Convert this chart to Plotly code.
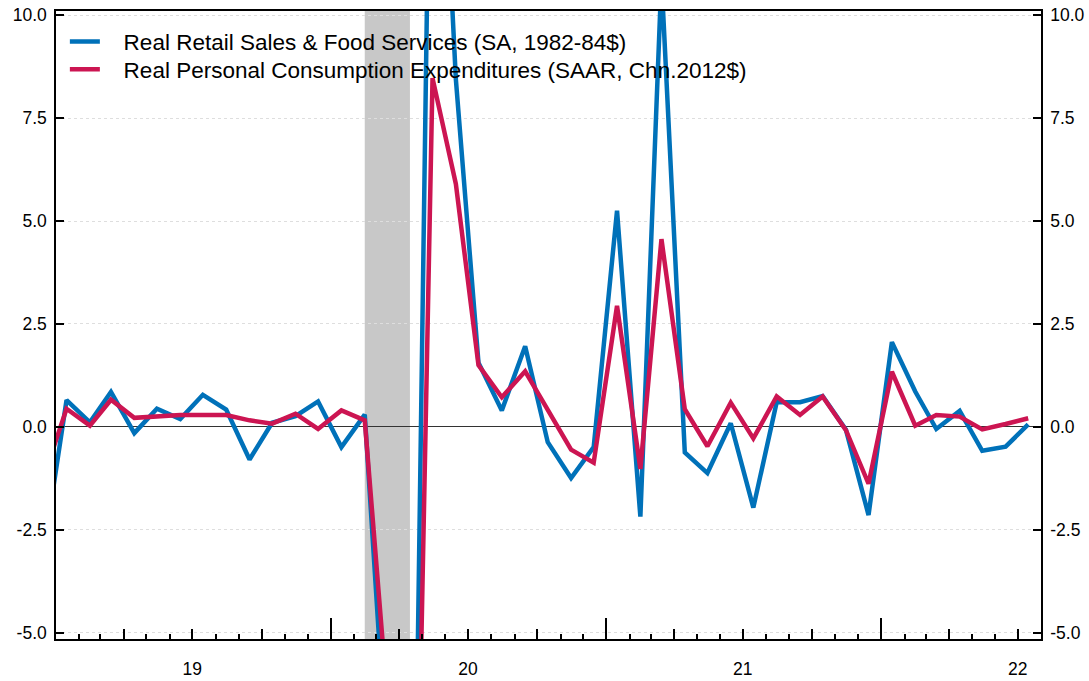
import plotly.graph_objects as go

# ---------------- data ----------------
months = (["2018-12"] +
          [f"{y}-{m:02d}" for y in (2019, 2020, 2021) for m in range(1, 13)] +
          [f"2022-{m:02d}" for m in range(1, 8)])
dates = [m + "-15" for m in months]

retail_sales = [-3.1,
                0.65, 0.11, 0.85, -0.15, 0.44, 0.19, 0.78, 0.42, -0.79, 0.10, 0.26, 0.62,
                -0.49, 0.30, -8.0, -18.8, 19.8, 8.44, 1.56, 0.40, 1.96, -0.37, -1.24, -0.49,
                5.25, -2.18, 10.9, -0.62, -1.12, 0.09, -1.96, 0.60, 0.60, 0.75, -0.07, -2.14,
                2.06, 0.86, -0.05, 0.39, -0.58, -0.48, 0.06]

pce = [-1.25,
       0.44, 0.03, 0.66, 0.22, 0.25, 0.29, 0.29, 0.29, 0.16, 0.08, 0.32, -0.05,
       0.40, 0.16, -6.4, -19.2, 8.47, 5.9, 1.5, 0.72, 1.35, 0.40, -0.55, -0.87,
       2.94, -1.02, 4.56, 0.43, -0.47, 0.59, -0.28, 0.74, 0.29, 0.74, -0.08, -1.38,
       1.34, 0.03, 0.29, 0.25, -0.06, 0.07, 0.21]

series_names = ["Real Retail Sales & Food Services (SA, 1982-84$)",
                "Real Personal Consumption Expenditures (SAAR, Chn.2012$)"]
series_colors = ["#0071b9", "#cc1552"]

ytick_vals = [-5, -2.5, 0, 2.5, 5, 7.5, 10]
ytick_text = ["-5.0", "-2.5", "0.0", "2.5", "5.0", "7.5", "10.0"]

year_label_dates = ["2019-07-01", "2020-07-01", "2021-07-01", "2022-07-01"]
year_labels = ["19", "20", "21", "22"]
year_tick_dates = ["2019-01-01", "2020-01-01", "2021-01-01", "2022-01-01"]
quarter_tick_dates = [f"{y}-{m:02d}-01" for y in (2019, 2020, 2021) for m in (4, 7, 10)] + \
                     ["2022-04-01", "2022-07-01"]

recession_start, recession_end = "2020-02-15", "2020-04-15"
x_range = ["2019-01-01", "2022-08-01"]
y_range = [-5.15, 10.1]

FONT = "Liberation Sans, Arial, sans-serif"
NB = "\u00a0"

fig = go.Figure()
for vals, name, col, lg in zip([retail_sales, pce], series_names, series_colors,
                               ["legend", "legend2"]):
    fig.add_trace(go.Scatter(x=dates, y=vals, mode="lines", name=NB * 3 + name,
                             legend=lg, line=dict(color=col, width=4.5), hoverinfo="skip"))

# empty helper traces so overlay axes get drawn
for ax in ("x2", "x3", "x4"):
    fig.add_trace(go.Scatter(x=[], y=[], xaxis=ax, yaxis="y", showlegend=False))
fig.add_trace(go.Scatter(x=[], y=[], xaxis="x", yaxis="y2", showlegend=False))

fig.add_vrect(x0=recession_start, x1=recession_end, fillcolor="#c8c8c8",
              line_width=0, layer="below", opacity=1)

common_x = dict(type="date", range=x_range, showgrid=False, zeroline=False, automargin=False)
legend_common = dict(xanchor="left", yanchor="top", bgcolor="rgba(0,0,0,0)",
                     font=dict(size=22.5, family=FONT), itemwidth=30)

fig.update_layout(
    width=1089, height=681,
    margin=dict(l=56, r=48, t=11, b=42, autoexpand=False),
    paper_bgcolor="white", plot_bgcolor="white",
    font=dict(family=FONT, color="black", size=17.5),
    showlegend=True,
    legend=dict(x=0.009, y=0.985, **legend_common),
    legend2=dict(x=0.009, y=0.941, **legend_common),
    xaxis=dict(**common_x, showline=True, linecolor="black", linewidth=1.5, mirror=True,
               tickmode="array", tickvals=year_tick_dates, ticks="inside", ticklen=21,
               tickwidth=1.5, tickcolor="black", showticklabels=False),
    xaxis2=dict(**common_x, overlaying="x", anchor="y", showline=False,
                tickmode="array", tickvals=quarter_tick_dates, ticks="inside", ticklen=10,
                tickwidth=1.5, tickcolor="black", showticklabels=False),
    xaxis3=dict(**common_x, overlaying="x", anchor="y", showline=False,
                tickmode="linear", tick0="2019-01-01", dtick="M1", ticks="inside", ticklen=5,
                tickwidth=1.5, tickcolor="black", showticklabels=False),
    xaxis4=dict(**common_x, overlaying="x", anchor="y", showline=False,
                tickmode="array", tickvals=year_label_dates, ticktext=year_labels,
                ticks="", showticklabels=True, tickfont=dict(size=17.5, family=FONT),
                ticklabelstandoff=17),
    yaxis=dict(range=y_range, tickmode="array", tickvals=ytick_vals, ticktext=ytick_text,
               ticks="inside", ticklen=8, tickwidth=1.5, tickcolor="black",
               showline=True, linecolor="black", linewidth=1.5, automargin=False,
               showgrid=True, gridcolor="#dedede", griddash="dot", gridwidth=1,
               zeroline=True, zerolinecolor="#333333", zerolinewidth=1.2,
               tickfont=dict(size=17.5, family=FONT), ticklabelstandoff=4),
    yaxis2=dict(range=y_range, overlaying="y", side="right", anchor="x",
                tickmode="array", tickvals=ytick_vals, ticktext=ytick_text,
                ticks="inside", ticklen=8, tickwidth=1.5, tickcolor="black",
                showline=True, linecolor="black", linewidth=1.5, automargin=False,
                showgrid=False, zeroline=False,
                tickfont=dict(size=17.5, family=FONT), ticklabelstandoff=4),
)

fig.write_html("out.html", config={"displayModeBar": False},
               post_script="document.body.style.margin='0px';")
